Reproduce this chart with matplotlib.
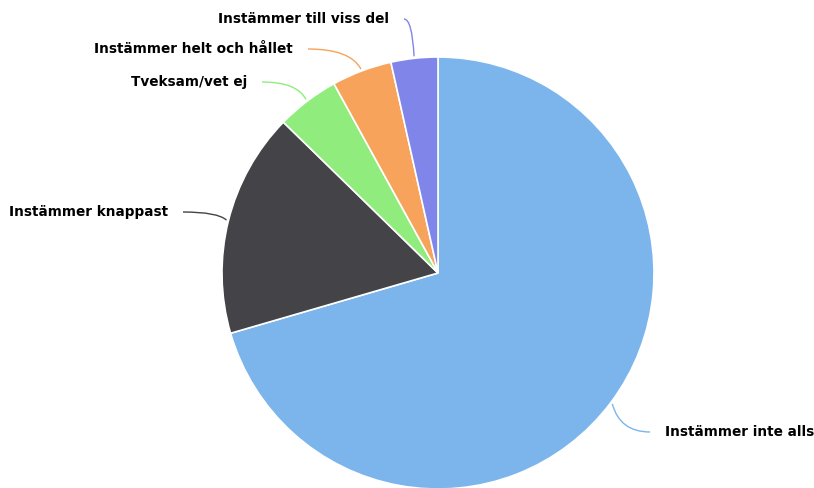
import matplotlib.pyplot as plt
import numpy as np
from matplotlib.path import Path
from matplotlib.patches import PathPatch

plt.rcParams['font.family'] = ['DejaVu Sans']

labels = ['Instämmer inte alls', 'Instämmer knappast', 'Tveksam/vet ej',
          'Instämmer helt och hållet', 'Instämmer till viss del']
values = [70.5, 16.8, 4.7, 4.5, 3.5]
colors = ['#7cb5ec', '#434348', '#90ed7d', '#f7a35c', '#8085e9']

# label layout (pixel positions of the connector end next to the text)
label_pos = [(650, 432), (183, 212), (262, 82), (308, 49), (404, 19)]

fig = plt.figure(figsize=(8.14, 4.88), dpi=100)
ax = fig.add_axes([0, 0, 1, 1])

cx, cy, r = 438, 273, 216
# y axis is inverted below: start at -90 and go "counterclockwise" in data,
# which shows as clockwise from 12 o'clock on screen
wedges, _ = ax.pie(values, colors=colors, startangle=-90, counterclock=True,
                   center=(cx, cy), radius=r, frame=True,
                   wedgeprops=dict(edgecolor='white', linewidth=1.2))
ax.set_xlim(0, 814)
ax.set_ylim(488, 0)
ax.axis('off')

for w, lab, col, (tx, ty) in zip(wedges, labels, colors, label_pos):
    mid = np.deg2rad((w.theta1 + w.theta2) / 2)
    ax_x = cx + (r + 2) * np.cos(mid)
    ax_y = cy + (r + 2) * np.sin(mid)
    ctrl = (0.8 * ax_x + 0.2 * tx, ty)
    path = Path([(tx, ty), ctrl, (ax_x, ax_y)], [Path.MOVETO, Path.CURVE3, Path.CURVE3])
    ax.add_patch(PathPatch(path, facecolor='none', edgecolor=col, lw=1))
    if tx > cx:
        ax.text(tx + 15, ty, lab, ha='left', va='center', fontsize=9.8,
                fontweight='bold', color='black')
    else:
        ax.text(tx - 15, ty, lab, ha='right', va='center', fontsize=9.8,
                fontweight='bold', color='black')

fig.savefig('out.png', dpi=100)
